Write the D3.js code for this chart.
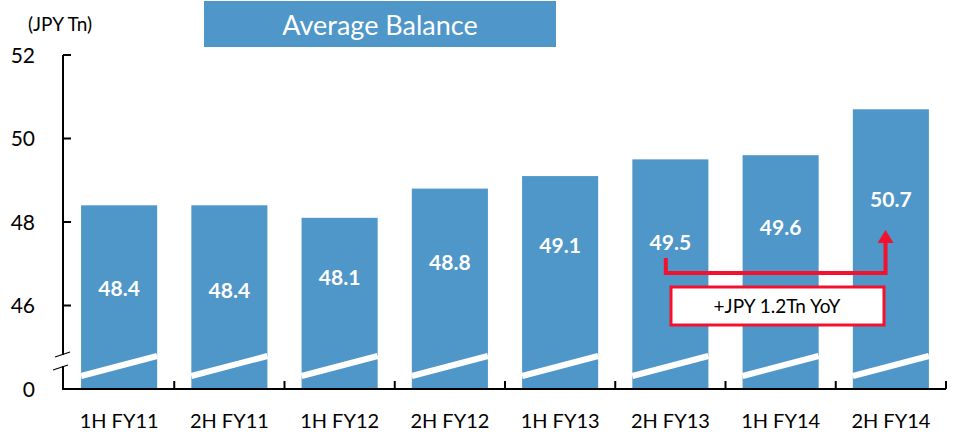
<!DOCTYPE html>
<html>
<head>
<meta charset="utf-8">
<script src="https://cdn.jsdelivr.net/npm/d3@7"></script>
<style>
  body { margin: 0; background: #fff; }
  svg { display: block; font-family: Lato, "Open Sans", sans-serif; }
</style>
</head>
<body>
<svg id="chart" width="957" height="435"></svg>
<script>
/* ---- data ---- */
const periods  = ["1H FY11","2H FY11","1H FY12","2H FY12","1H FY13","2H FY13","1H FY14","2H FY14"];
const balances = [48.4, 48.4, 48.1, 48.8, 49.1, 49.5, 49.6, 50.7];
const labelAt  = [46.4, 46.35, 46.68, 47.04, 47.45, 47.52, 47.88, 48.55]; // where each value label sits
const yTicks   = [46, 48, 50, 52];
const yoyText  = "+JPY 1.2Tn YoY";

/* ---- setup ---- */
const BLUE = "#4f96c9", RED = "#f2122d";
const svg = d3.select("#chart");

const x = d3.scaleBand().domain(periods).range([64, 946])
    .paddingInner(0.31).paddingOuter(0.155);
// axis is broken: the baseline stands for 0, above it the scale runs 44..52
const y = d3.scaleLinear().domain([44, 52]).range([389, 55]);
const base = y(44);

/* ---- bars ---- */
svg.append("g").selectAll("rect")
  .data(balances)
  .join("rect")
    .attr("x", (d,i) => x(periods[i]))
    .attr("y", d => y(d))
    .attr("width", x.bandwidth())
    .attr("height", d => base - y(d))
    .attr("fill", BLUE);

// white break stripe across each bar
svg.append("g").selectAll("line")
  .data(periods)
  .join("line")
    .attr("x1", d => x(d))
    .attr("x2", d => x(d) + x.bandwidth())
    .attr("y1", base - 13)
    .attr("y2", base - 33)
    .attr("stroke", "#fff")
    .attr("stroke-width", 6);

/* ---- value labels ---- */
svg.append("g").selectAll("text")
  .data(balances)
  .join("text")
    .attr("x", (d,i) => x(periods[i]) + x.bandwidth()/2)
    .attr("y", (d,i) => y(labelAt[i]))
    .attr("dy", "0.36em")
    .attr("text-anchor", "middle")
    .attr("fill", "#fff")
    .attr("font-weight", "bold")
    .attr("font-size", 21)
    .text(d => d.toFixed(1));

/* ---- y axis (with break) ---- */
const ax = svg.append("g").attr("stroke", "#000").attr("stroke-width", 2);
ax.append("line").attr("x1", 63).attr("x2", 63).attr("y1", y(52)).attr("y2", base - 34);
ax.append("line").attr("x1", 63).attr("x2", 63).attr("y1", base - 23).attr("y2", base + 1);
ax.selectAll("line.tk")
  .data(yTicks.concat([44]))
  .join("line").attr("class", "tk")
    .attr("x1", 63).attr("x2", 71)
    .attr("y1", d => y(d)).attr("y2", d => y(d));
// break marks
ax.append("line").attr("x1", 55).attr("x2", 70).attr("y1", base - 32).attr("y2", base - 37).attr("stroke-width", 1.3);
ax.append("line").attr("x1", 53).attr("x2", 68).attr("y1", base - 19).attr("y2", base - 24).attr("stroke-width", 1.3);

svg.append("g").selectAll("text")
  .data(yTicks.map(String).concat(["0"]))
  .join("text")
    .attr("x", 35)
    .attr("y", (d,i) => i < yTicks.length ? y(yTicks[i]) : base)
    .attr("dy", "0.36em")
    .attr("text-anchor", "end")
    .attr("font-size", 21)
    .attr("fill", "#000")
    .text(d => d);

svg.append("text").attr("x", 28).attr("y", 31)
  .attr("font-size", 19).text("(JPY Tn)");

/* ---- x axis ---- */
const step = x.step();
const xa = svg.append("g").attr("stroke", "#000").attr("stroke-width", 2);
xa.append("line").attr("x1", 62).attr("x2", 946).attr("y1", base).attr("y2", base);
xa.selectAll("line.tk")
  .data(periods)
  .join("line").attr("class", "tk")
    .attr("x1", d => x(d) - x.paddingOuter()*step + step)
    .attr("x2", d => x(d) - x.paddingOuter()*step + step)
    .attr("y1", base).attr("y2", base - 8);

svg.append("g").selectAll("text")
  .data(periods)
  .join("text")
    .attr("x", d => x(d) + x.bandwidth()/2)
    .attr("y", 421)
    .attr("dy", "0.36em")
    .attr("text-anchor", "middle")
    .attr("font-size", 20)
    .text(d => d);

/* ---- title box ---- */
svg.append("rect").attr("x", 204).attr("y", 1).attr("width", 352).attr("height", 46).attr("fill", BLUE);
svg.append("text").attr("x", 380).attr("y", 25).attr("dy", "0.36em")
  .attr("text-anchor", "middle").attr("fill", "#fff").attr("font-size", 27)
  .text("Average Balance");

/* ---- YoY arrow ---- */
const xs = x(periods[5]) + x.bandwidth()*0.44;
const xe = x(periods[7]) + x.bandwidth()*0.43;
const ya = y(labelAt[5]) + 16, yh = ya + 15, yt = y(labelAt[7]) + 31;
svg.append("path")
  .attr("d", `M${xs},${ya} V${yh} H${xe} V${yt + 12}`)
  .attr("fill", "none").attr("stroke", RED).attr("stroke-width", 4);
svg.append("path")
  .attr("d", `M${xe - 8},${yt + 13} L${xe},${yt} L${xe + 8},${yt + 13} Z`)
  .attr("fill", RED);

svg.append("rect").attr("x", 671).attr("y", 287).attr("width", 213).attr("height", 38)
  .attr("fill", "#fff").attr("stroke", RED).attr("stroke-width", 3);
svg.append("text").attr("x", 777).attr("y", 306).attr("dy", "0.36em")
  .attr("text-anchor", "middle").attr("font-size", 19).text(yoyText);
</script>
</body>
</html>
